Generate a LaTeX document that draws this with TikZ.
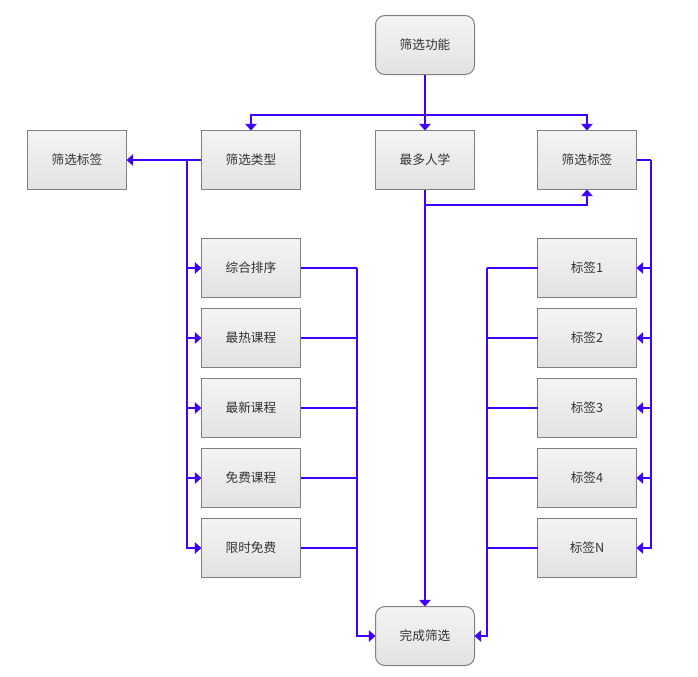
\documentclass[tikz,border=0pt]{standalone}
\usepackage{fontspec}
\setmainfont{Noto Sans CJK SC}
\usetikzlibrary{positioning,arrows.meta}

\definecolor{flowblue}{RGB}{64,0,255}
\definecolor{boxtop}{RGB}{244,244,244}
\definecolor{boxbot}{RGB}{226,226,226}
\definecolor{boxline}{RGB}{128,128,128}
\definecolor{boxtext}{RGB}{51,51,51}

\tikzset{
	box/.style={draw=boxline, line width=0.75pt, top color=boxtop, bottom color=boxbot,
		minimum width=74.25pt, minimum height=44.25pt, inner sep=0pt, outer sep=0pt,
		font=\fontsize{9.5pt}{11pt}\selectfont, text=boxtext},
	rbox/.style={box, rounded corners=7pt},
	link/.style={draw=flowblue, line width=1.5pt},
	linkarr/.style={link, -{Triangle[width=8.5pt,length=5pt]}},
}

\begin{document}
\begin{tikzpicture}
	\useasboundingbox (-318.75pt,33.75pt) rectangle (204.75pt,-473.25pt);
	% top and second row
	\node[rbox] (func) {筛选功能};
	\node[box, below=42pt of func] (most) {最多人学};
	\node[box, left=56.25pt of most] (type) {筛选类型};
	\node[box, left=56.25pt of type] (tagl) {筛选标签};
	\node[box, right=47.25pt of most] (tagr) {筛选标签};
	% sort list
	\node[box, below=36.75pt of type] (s1) {综合排序};
	\node[box, below=8.25pt of s1] (s2) {最热课程};
	\node[box, below=8.25pt of s2] (s3) {最新课程};
	\node[box, below=8.25pt of s3] (s4) {免费课程};
	\node[box, below=8.25pt of s4] (s5) {限时免费};
	% tag list
	\node[box, below=36.75pt of tagr] (t1) {标签1};
	\node[box, below=8.25pt of t1] (t2) {标签2};
	\node[box, below=8.25pt of t2] (t3) {标签3};
	\node[box, below=8.25pt of t3] (t4) {标签4};
	\node[box, below=8.25pt of t4] (t5) {标签N};
	\node[rbox, anchor=north] (done) at ([yshift=-21.75pt]s5.south -| most) {完成筛选};
	%
	\coordinate (split) at ([yshift=-30.375pt]func.south);
	\coordinate (lbus) at ([xshift=-10.875pt]type.west);
	\coordinate (rbus) at ([xshift=42.375pt]s1.east);
	\coordinate (tbus) at ([xshift=10.875pt]tagr.east);
	\coordinate (cbus) at ([xshift=-37.875pt]t1.west);
	\coordinate (mbus) at ([yshift=-11.625pt]most.south);
	%
	\draw[link] (func.south) -- (split);
	\draw[linkarr] (split) -| (type.north);
	\draw[linkarr] (split) -| (tagr.north);
	\draw[linkarr] (split) -- (most.north);
	\draw[linkarr] (type.west) -- (tagl.east);
	\draw[linkarr] (lbus) |- (s1.west);
	\draw[linkarr] (lbus) |- (s2.west);
	\draw[linkarr] (lbus) |- (s3.west);
	\draw[linkarr] (lbus) |- (s4.west);
	\draw[linkarr] (lbus) |- (s5.west);
	\draw[link] (s1.east) -- (s1.east -| rbus);
	\draw[link] (s2.east) -- (s2.east -| rbus);
	\draw[link] (s3.east) -- (s3.east -| rbus);
	\draw[link] (s4.east) -- (s4.east -| rbus);
	\draw[link] (s5.east) -- (s5.east -| rbus);
	\draw[linkarr] (rbus) |- (done.west);
	\draw[linkarr] (most.south) -- (done.north);
	\draw[linkarr] (mbus) -| (tagr.south);
	\draw[link] (tagr.east) -- (tbus);
	\draw[linkarr] (tbus) |- (t1.east);
	\draw[linkarr] (tbus) |- (t2.east);
	\draw[linkarr] (tbus) |- (t3.east);
	\draw[linkarr] (tbus) |- (t4.east);
	\draw[linkarr] (tbus) |- (t5.east);
	\draw[link] (t1.west) -- (t1.west -| cbus);
	\draw[link] (t2.west) -- (t2.west -| cbus);
	\draw[link] (t3.west) -- (t3.west -| cbus);
	\draw[link] (t4.west) -- (t4.west -| cbus);
	\draw[link] (t5.west) -- (t5.west -| cbus);
	\draw[linkarr] (cbus) |- (done.east);
\end{tikzpicture}
\end{document}
